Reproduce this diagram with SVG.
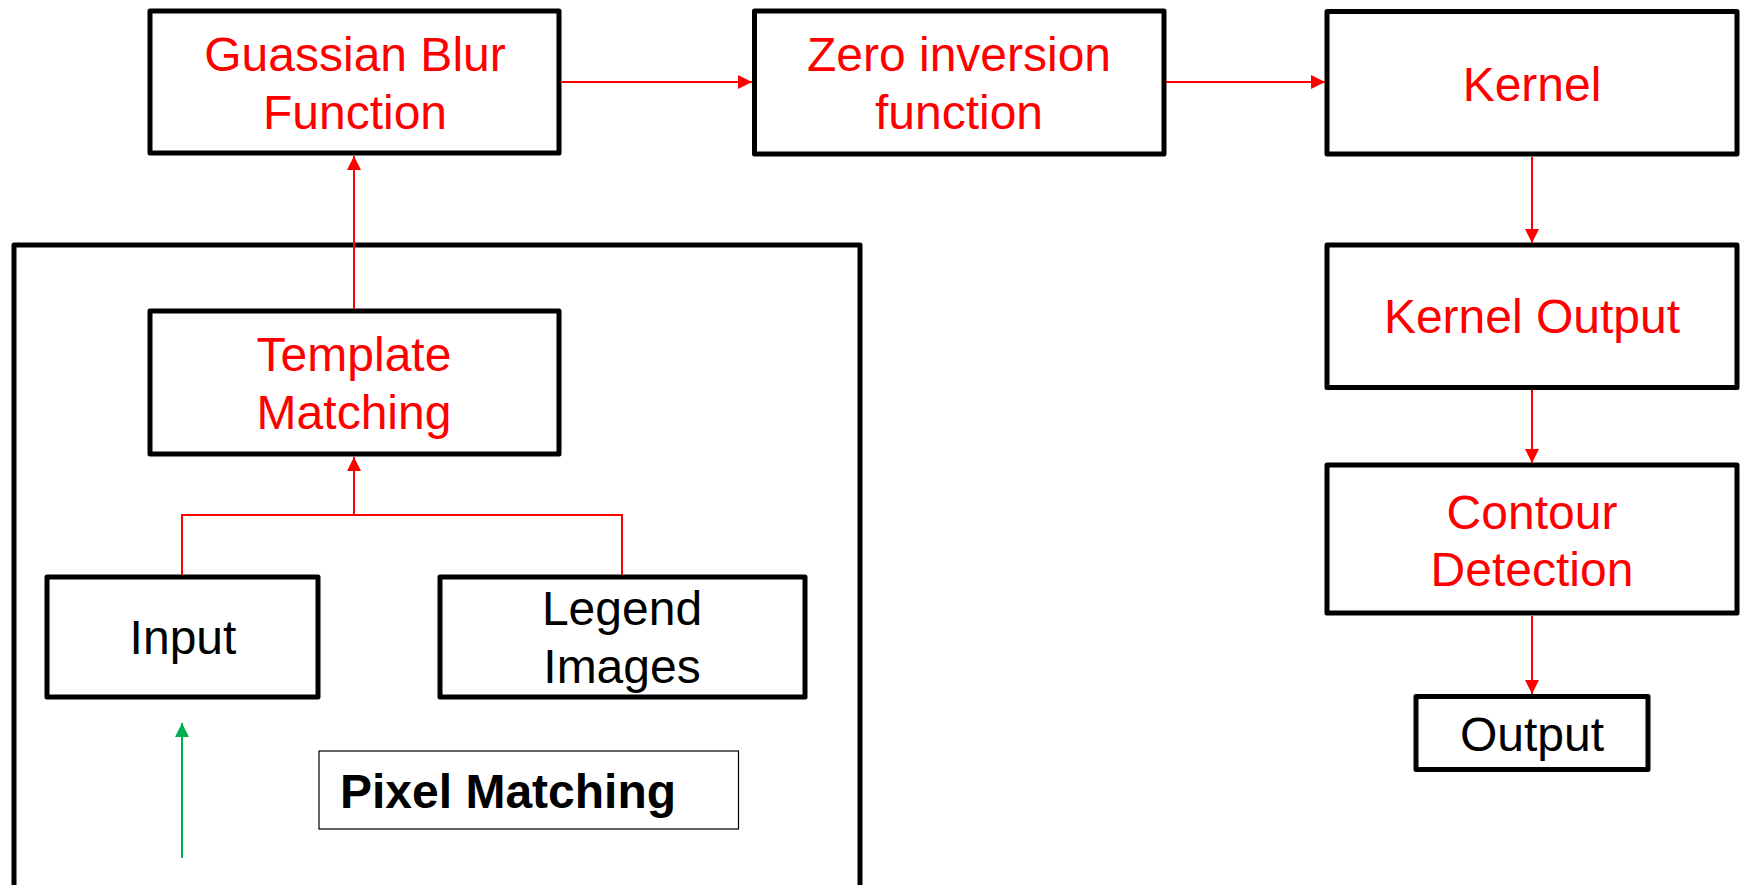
<svg xmlns="http://www.w3.org/2000/svg" width="1742" height="885" viewBox="0 0 1742 885">
<style>
.box{fill:#fff;stroke:#000;stroke-width:5;stroke-linejoin:round}
.thin{fill:#fff;stroke:#000;stroke-width:1.2}
.t{font-family:"Liberation Sans",Arial,sans-serif;font-size:48px;text-anchor:middle}
.red{fill:#ff0000}
.blk{fill:#000}
.ln{fill:none;stroke:#ff0000;stroke-width:2}
.gl{fill:none;stroke:#00b050;stroke-width:2}
</style>
<defs>
<marker id="ar" markerUnits="userSpaceOnUse" markerWidth="16" markerHeight="16" viewBox="0 0 16 16" refX="15" refY="8" orient="auto">
<path d="M1,1 L15,8 L1,15 Z" fill="#ff0000"/>
</marker>
<marker id="ag" markerUnits="userSpaceOnUse" markerWidth="16" markerHeight="16" viewBox="0 0 16 16" refX="15" refY="8" orient="auto">
<path d="M1,1 L15,8 L1,15 Z" fill="#00b050"/>
</marker>
</defs>
<rect width="1742" height="885" fill="#fff"/>
<g id="pixel-matching-group">
<rect class="box" x="14" y="245" width="846" height="643"/>
</g>
<g id="guassian">
<rect class="box" x="150" y="11" width="409" height="142"/>
<text class="t red" x="355" y="71">Guassian Blur</text>
<text class="t red" x="355" y="129">Function</text>
</g>
<g id="zero">
<rect class="box" x="754.5" y="11" width="409.5" height="143"/>
<text class="t red" x="959" y="71">Zero inversion</text>
<text class="t red" x="959" y="129">function</text>
</g>
<g id="kernel">
<rect class="box" x="1327" y="11.5" width="410" height="142.5"/>
<text class="t red" x="1532" y="101">Kernel</text>
</g>
<g id="kernel-output">
<rect class="box" x="1327" y="245" width="410" height="142.5"/>
<text class="t red" x="1532" y="333">Kernel Output</text>
</g>
<g id="contour">
<rect class="box" x="1327" y="465" width="410" height="148"/>
<text class="t red" x="1532" y="529">Contour</text>
<text class="t red" x="1532" y="586">Detection</text>
</g>
<g id="output">
<rect class="box" x="1416" y="696.5" width="232" height="73"/>
<text class="t blk" x="1532" y="751">Output</text>
</g>
<g id="template">
<rect class="box" x="150" y="311" width="409" height="143"/>
<text class="t red" x="354" y="371">Template</text>
<text class="t red" x="354" y="429">Matching</text>
</g>
<g id="input">
<rect class="box" x="47" y="577" width="271" height="120"/>
<text class="t blk" x="183" y="654">Input</text>
</g>
<g id="legend">
<rect class="box" x="440" y="577" width="365" height="120"/>
<text class="t blk" x="622" y="625">Legend</text>
<text class="t blk" x="622" y="683">Images</text>
</g>
<g id="pixel-label">
<rect class="thin" x="319" y="751" width="419.5" height="78"/>
<text class="t blk" x="340" y="808" style="text-anchor:start;font-weight:bold">Pixel Matching</text>
</g>
<g id="connectors">
<line class="ln" x1="354" y1="309" x2="354" y2="156" marker-end="url(#ar)"/>
<line class="ln" x1="562" y1="82" x2="752" y2="82" marker-end="url(#ar)"/>
<line class="ln" x1="1166" y1="82" x2="1325" y2="82" marker-end="url(#ar)"/>
<line class="ln" x1="1532" y1="157" x2="1532" y2="243" marker-end="url(#ar)"/>
<line class="ln" x1="1532" y1="390" x2="1532" y2="463" marker-end="url(#ar)"/>
<line class="ln" x1="1532" y1="616" x2="1532" y2="694" marker-end="url(#ar)"/>
<polyline class="ln" points="182,575 182,515 622,515 622,575"/>
<line class="ln" x1="354" y1="515" x2="354" y2="457" marker-end="url(#ar)"/>
<line class="gl" x1="182" y1="858" x2="182" y2="723" marker-end="url(#ag)"/>
</g>
</svg>
